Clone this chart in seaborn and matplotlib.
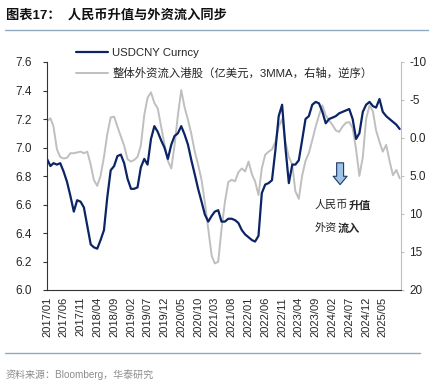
import numpy as np
import pandas as pd
import matplotlib
matplotlib.use('Agg')
import matplotlib.pyplot as plt
import matplotlib.ticker as mticker
import seaborn as sns

# ---------------- data ----------------
months = pd.date_range('2017-01-01', periods=106, freq='MS')

usdcny = [6.92, 6.87, 6.89, 6.88, 6.89, 6.83, 6.76, 6.66, 6.55, 6.63,
          6.62, 6.58, 6.45, 6.32, 6.30, 6.29, 6.35, 6.42, 6.65, 6.84,
          6.87, 6.94, 6.95, 6.89, 6.78, 6.71, 6.71, 6.72, 6.86, 6.92,
          6.88, 7.06, 7.15, 7.11, 7.05, 7.00, 6.92, 7.02, 7.08, 7.10,
          7.15, 7.09, 7.02, 6.91, 6.81, 6.71, 6.62, 6.53, 6.48, 6.52,
          6.55, 6.56, 6.48, 6.48, 6.50, 6.50, 6.49, 6.47, 6.42, 6.39,
          6.37, 6.35, 6.34, 6.38, 6.68, 6.74, 6.75, 6.77, 6.98, 7.22,
          7.30, 7.00, 6.75, 6.88, 6.88, 6.91, 7.05, 7.20, 7.22, 7.30,
          7.32, 7.31, 7.25, 7.17, 7.20, 7.21, 7.22, 7.24, 7.25, 7.26,
          7.27, 7.20, 7.06, 7.10, 7.25, 7.30, 7.32, 7.29, 7.28, 7.34,
          7.25, 7.22, 7.20, 7.18, 7.16, 7.13]

hk_flow = [-2.2, -2.6, -1.5, 1.5, 2.5, 2.7, 2.6, 2.0, 2.0, 1.9,
           1.8, 2.0, 1.8, 3.5, 5.5, 6.3, 5.0, 2.5, -0.5, -2.7,
           -2.8, -1.5, -0.2, 1.0, 2.8, 3.1, 2.9, 2.5, 1.0, -3.0,
           -5.3, -6.0, -4.6, -3.9, -1.5, 0.8, 3.0, 4.0, 1.0, -3.0,
           -6.3, -4.0, -2.4, -0.5, 1.8, 3.5, 5.5, 8.5, 12.0, 15.5,
           16.5, 16.3, 12.0, 8.4, 5.8, 5.5, 5.7, 4.5, 4.0, 4.4,
           3.1, 4.8, 5.7, 7.5, 4.0, 2.2, 1.8, 1.5, 0.5, -1.5,
           -2.5, 0.5, 2.5, 3.5, 7.0, 8.0, 5.0, 3.0, 2.0, 0.3,
           -1.5, -3.0, -4.3, -3.0, -2.3, -1.7, -1.0, -0.8, -1.5, -2.0,
           -2.1, -1.3, 1.5, 5.0, 2.5, -2.5, -4.3, -3.5, -1.0, 0.5,
           1.8, 0.9, 3.0, 4.9, 4.2, 5.3]

left_ticks = [6.0, 6.2, 6.4, 6.6, 6.8, 7.0, 7.2, 7.4, 7.6]
right_ticks = [-10, -5, 0, 5, 10, 15, 20]
right_labels = ['-10', '-5', '0.0', '5.0', '10', '15', '20']
x_ticks = pd.date_range('2017-01-01', '2025-05-01', freq='5MS')

label_fx = 'USDCNY Curncy'
label_flow = '整体外资流入港股（亿美元，3MMA，右轴，逆序）'
title = '图表17：  人民币升值与外资流入同步'
source = '资料来源：Bloomberg，华泰研究'

df = pd.DataFrame({'date': months, 'usdcny': usdcny, 'flow': hk_flow})

# ---------------- style ----------------
sns.set_style('white')
plt.rcParams['font.family'] = ['Liberation Sans', 'Noto Sans CJK SC', 'DejaVu Sans']
plt.rcParams['axes.unicode_minus'] = False

NAVY = '#0b2466'
GRAY = '#bfbfbf'

fig = plt.figure(figsize=(4.29, 3.88), dpi=100)
ax = fig.add_axes([47 / 429, 1 - 290 / 388, (401 - 47) / 429, (290 - 62) / 388])
ax2 = ax.twinx()

sns.lineplot(data=df, x='date', y='flow', ax=ax2, color=GRAY, lw=1.4, label=label_flow, legend=False)
sns.lineplot(data=df, x='date', y='usdcny', ax=ax, color=NAVY, lw=1.6, label=label_fx, legend=False)
ax.set_zorder(ax2.get_zorder() + 1)
ax.patch.set_visible(False)

ax.set_ylim(6.0, 7.6)
ax.set_yticks(left_ticks)
ax.yaxis.set_major_formatter(mticker.FormatStrFormatter('%.1f'))
ax2.set_ylim(20, -10)
ax2.set_yticks(right_ticks)
ax2.set_yticklabels(right_labels)

ax.set_xlim(months[0], pd.Timestamp('2025-10-13'))
ax.set_xticks(x_ticks)
ax.set_xticklabels([d.strftime('%Y/%m') for d in x_ticks], rotation=90, fontsize=8)

ax.set_xlabel('')
ax.set_ylabel('')
ax2.set_ylabel('')

for a in (ax, ax2):
    a.spines['top'].set_visible(False)
ax.spines['right'].set_visible(False)
ax2.spines['left'].set_visible(False)
ax2.spines['bottom'].set_visible(False)
ax.spines['left'].set_color('#333333')
ax.spines['bottom'].set_color('#333333')
ax.spines['left'].set_linewidth(0.8)
ax.spines['bottom'].set_linewidth(0.8)
ax2.spines['right'].set_color('#bfbfbf')
ax2.spines['right'].set_linewidth(0.8)

ax.tick_params(axis='y', direction='out', length=3, width=0.8, color='#333333', labelsize=8.5, pad=8)
ax.tick_params(axis='x', direction='out', length=3, width=0.8, color='#333333', pad=2)
ax2.tick_params(axis='y', direction='out', length=2, width=0.8, color='#bfbfbf', labelsize=8.5, pad=4)

# legend
h1, l1 = ax.get_legend_handles_labels()
h2, l2 = ax2.get_legend_handles_labels()
fig.legend(h1 + h2, l1 + l2, loc='upper left', bbox_to_anchor=(76 / 429, 1 - 48 / 388),
           frameon=False, fontsize=8.2, handlelength=2.8, handletextpad=0.4,
           labelspacing=0.85, borderpad=0, borderaxespad=0)

# annotation
ax.annotate('', xy=(0.828, 0.45), xytext=(0.828, 0.57), xycoords='axes fraction',
            arrowprops=dict(arrowstyle='simple,head_width=1.0,head_length=0.6,tail_width=0.5',
                            fc='#9dc3e6', ec='#1f3864', lw=0.8))
t1 = ax.text(0.757, 0.373, '人民币', transform=ax.transAxes, fontsize=8, va='center', ha='left',
             family=['Noto Sans CJK SC'])
ax.annotate('升值', xy=(1, 0.5), xycoords=t1, xytext=(0.3, 0), textcoords='offset points',
            fontsize=8, va='center', ha='left', family=['Noto Sans CJK SC'], fontweight='bold')
t2 = ax.text(0.757, 0.272, '外资', transform=ax.transAxes, fontsize=8, va='center', ha='left',
             family=['Noto Sans CJK SC'])
ax.annotate('流入', xy=(1, 0.5), xycoords=t2, xytext=(0.3, 0), textcoords='offset points',
            fontsize=8, va='center', ha='left', family=['Noto Sans CJK SC'], fontweight='bold')

# title, separators, source
fig.text(6 / 429, 1 - 15 / 388, title, fontsize=9.5, fontweight='bold', va='center', ha='left',
         color='#111111')
fig.add_artist(plt.Line2D([5 / 429, 1.0], [1 - 30 / 388, 1 - 30 / 388], color='#8ea9c1', lw=1.0))
fig.add_artist(plt.Line2D([5 / 429, 420 / 429], [1 - 353 / 388, 1 - 353 / 388], color='#8ea9c1', lw=1.0))
fig.text(6 / 429, 1 - 375 / 388, source, fontsize=7.2, va='center', ha='left', color='#8c8c8c')

fig.savefig('out.png', dpi=100)
